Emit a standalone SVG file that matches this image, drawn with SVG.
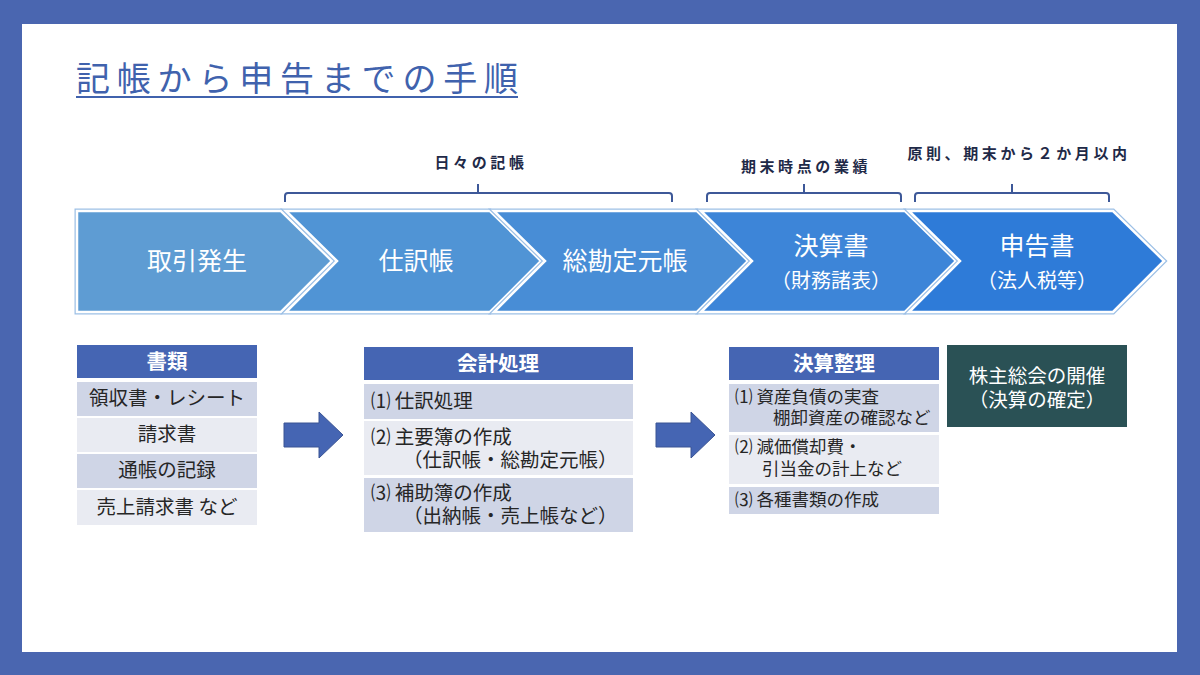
<svg xmlns="http://www.w3.org/2000/svg" width="1200" height="675" viewBox="0 0 1200 675">
<style>
text{font-family:"Noto Sans CJK JP","Noto Sans CJK SC",sans-serif}
.title{font-size:34px;fill:#4062ad;letter-spacing:6.8px}
.chev{stroke:#ffffff;stroke-width:2.5;stroke-linejoin:miter}
.chevo{fill:none;stroke:#9dc0e6;stroke-width:5;stroke-linejoin:miter}
.ct{font-size:25px;fill:#ffffff;text-anchor:middle}
.cs{font-size:20px;fill:#ffffff;text-anchor:middle}
.br{fill:none;stroke:#3d5898;stroke-width:2}
.bl{font-size:15px;fill:#1f2a48;text-anchor:middle;letter-spacing:3.6px;font-weight:bold}
.hd{fill:#4565b3}
.ht{font-size:20.5px;fill:#ffffff;text-anchor:middle;font-weight:bold}
.ra{fill:#cfd5e6}
.rb{fill:#e9ebf2}
.tt{font-size:19.5px;fill:#262626}
.t3{font-size:17.5px;fill:#262626}
.tc{text-anchor:middle}
.blk{fill:#4565b3;stroke:#3a5494;stroke-width:1}
.mt{font-size:19.5px;fill:#ffffff;text-anchor:middle}
</style>
<rect x="0" y="0" width="1200" height="675" fill="#4a66b0"/>
<rect x="22" y="24" width="1155" height="628" fill="#ffffff"/>
<g id="title">
<text class="title" x="76" y="91">記帳から申告までの手順</text>
<line x1="76" y1="97" x2="518" y2="97" stroke="#4062ad" stroke-width="2"/>
</g>
<g id="brackets">
<path class="br" d="M285,202 V196 Q285,193 288,193 H669 Q672,193 672,196 V202 M478,193 V184"/>
<text class="bl" x="481" y="168">日々の記帳</text>
<path class="br" d="M707,202 V196 Q707,193 710,193 H898 Q901,193 901,196 V202 M804,193 V184"/>
<text class="bl" x="806" y="172">期末時点の業績</text>
<path class="br" d="M915,202 V196 Q915,193 918,193 H1106 Q1109,193 1109,196 V202 M1012,193 V184"/>
<text class="bl" x="1019" y="159">原則、期末から２か月以内</text>
</g>
<g id="chevron1">
<path class="chevo" d="M77,211 H281 L332,261 L281,312 H77 Z"/>
<path class="chev" fill="#5e9cd3" d="M77,211 H281 L332,261 L281,312 H77 Z"/>
<text class="ct" x="197" y="270">取引発生</text>
</g>
<g id="chevron2">
<path class="chevo" d="M286,211 H490 L541,261 L490,312 H286 L337,261 Z"/>
<path class="chev" fill="#5094d5" d="M286,211 H490 L541,261 L490,312 H286 L337,261 Z"/>
<text class="ct" x="416" y="270">仕訳帳</text>
</g>
<g id="chevron3">
<path class="chevo" d="M494,211 H697 L748,261 L697,312 H494 L545,261 Z"/>
<path class="chev" fill="#488dd6" d="M494,211 H697 L748,261 L697,312 H494 L545,261 Z"/>
<text class="ct" x="625" y="270">総勘定元帳</text>
</g>
<g id="chevron4">
<path class="chevo" d="M701,211 H905 L956,261 L905,312 H701 L752,261 Z"/>
<path class="chev" fill="#3d85d8" d="M701,211 H905 L956,261 L905,312 H701 L752,261 Z"/>
<text class="ct" x="831" y="255">決算書</text>
<text class="cs" x="831" y="288">（財務諸表）</text>
</g>
<g id="chevron5">
<path class="chevo" d="M909,211 H1113 L1164,261 L1113,312 H909 L960,261 Z"/>
<path class="chev" fill="#2e7bd8" d="M909,211 H1113 L1164,261 L1113,312 H909 L960,261 Z"/>
<text class="ct" x="1037" y="255">申告書</text>
<text class="cs" x="1037" y="288">（法人税等）</text>
</g>
<g id="table-shorui">
<rect class="hd" x="77" y="345" width="180" height="33"/>
<text class="ht" x="167" y="369">書類</text>
<rect class="ra" x="77" y="382" width="180" height="34"/>
<text class="tt tc" x="167" y="405">領収書・レシート</text>
<rect class="rb" x="77" y="418" width="180" height="34"/>
<text class="tt tc" x="167" y="441">請求書</text>
<rect class="ra" x="77" y="454" width="180" height="34"/>
<text class="tt tc" x="167" y="477">通帳の記録</text>
<rect class="rb" x="77" y="490" width="180" height="35"/>
<text class="tt tc" x="167" y="514">売上請求書 など</text>
</g>
<g id="connectors">
<path class="blk" d="M284,423 H319 V412 L343,435 L319,458 V447 H284 Z"/>
<path class="blk" d="M656,423 H691 V412 L715,435 L691,458 V447 H656 Z"/>
</g>
<g id="table-kaikei">
<rect class="hd" x="364" y="347" width="269" height="33"/>
<text class="ht" x="498" y="371">会計処理</text>
<rect class="ra" x="364" y="384" width="269" height="35"/>
<text class="tt" x="371" y="408">⑴ 仕訳処理</text>
<rect class="rb" x="364" y="421" width="269" height="54"/>
<text class="tt" x="371" y="444">⑵ 主要簿の作成</text>
<text class="tt" x="403" y="467">（仕訳帳・総勘定元帳）</text>
<rect class="ra" x="364" y="478" width="269" height="54"/>
<text class="tt" x="371" y="500">⑶ 補助簿の作成</text>
<text class="tt" x="403" y="523">（出納帳・売上帳など）</text>
</g>
<g id="table-kessan">
<rect class="hd" x="729" y="347" width="210" height="33"/>
<text class="ht" x="834" y="371">決算整理</text>
<rect class="ra" x="729" y="384" width="210" height="48"/>
<text class="t3" x="735" y="403">⑴ 資産負債の実査</text>
<text class="t3" x="773" y="424">棚卸資産の確認など</text>
<rect class="rb" x="729" y="435" width="210" height="49"/>
<text class="t3" x="735" y="453">⑵ 減価償却費・</text>
<text class="t3" x="762" y="475">引当金の計上など</text>
<rect class="ra" x="729" y="487" width="210" height="27"/>
<text class="t3" x="735" y="506">⑶ 各種書類の作成</text>
</g>
<g id="meeting">
<rect x="947" y="345" width="180" height="82" fill="#2a5155"/>
<text class="mt" x="1037" y="383">株主総会の開催</text>
<text class="mt" x="1037" y="407">（決算の確定）</text>
</g>
</svg>
